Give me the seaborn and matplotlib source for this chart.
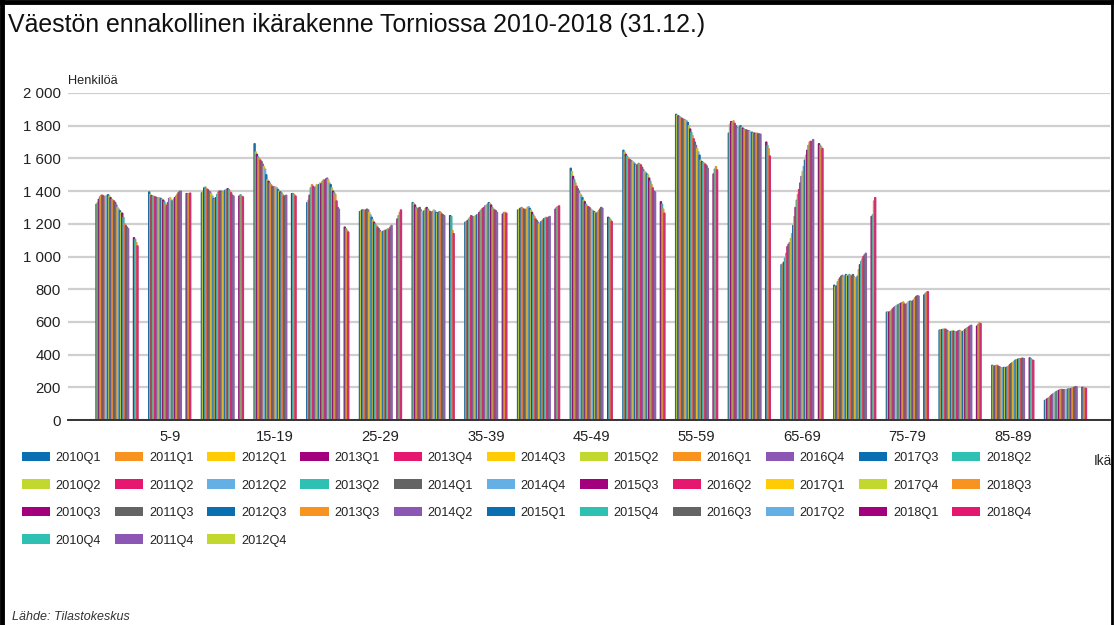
import matplotlib
matplotlib.use("Agg")
import matplotlib.pyplot as plt
import seaborn as sns
import pandas as pd
from matplotlib.patches import Patch
from matplotlib.lines import Line2D
from matplotlib.ticker import FuncFormatter

# ---------------- data ----------------
ages = ["0-4", "5-9", "10-14", "15-19", "20-24", "25-29", "30-34", "35-39", "40-44",
        "45-49", "50-54", "55-59", "60-64", "65-69", "70-74", "75-79", "80-84", "85-89", "90-"]
quarters = [f"{y}Q{q}" for y in range(2010, 2019) for q in range(1, 5)]

N = None  # no value (2017 quarters missing)
v_0_4 = [1320, 1330, 1350, 1365, 1375, 1375, 1370, 1365, 1370, 1375, 1378, 1370, 1360, 1350,
         1345, 1340, 1330, 1315, 1300, 1290, 1280, 1270, 1265, 1240, 1200, 1190, 1180, 1170,
         N, N, N, N, 1115, 1105, 1085, 1065]
v_5_9 = [1395, 1380, 1372, 1370, 1368, 1365, 1362, 1360, 1360, 1358, 1355, 1350, 1345, 1335,
         1320, 1310, 1330, 1355, 1360, 1345, 1340, 1350, 1360, 1370, 1380, 1390, 1398, 1400,
         N, N, N, N, 1385, 1382, 1385, 1388]
v_10_14 = [1390, 1400, 1420, 1425, 1415, 1410, 1400, 1395, 1385, 1370, 1355, 1350, 1360, 1380,
           1395, 1400, 1400, 1398, 1395, 1400, 1405, 1410, 1415, 1410, 1400, 1390, 1375, 1370,
           N, N, N, N, 1370, 1378, 1370, 1365]
v_15_19 = [1690, 1640, 1625, 1610, 1600, 1590, 1580, 1565, 1550, 1535, 1500, 1470, 1460, 1450,
           1440, 1430, 1425, 1425, 1425, 1420, 1410, 1400, 1395, 1390, 1380, 1370, 1370, 1375,
           N, N, N, N, 1385, 1385, 1378, 1370]
v_20_24 = [1330, 1345, 1375, 1420, 1440, 1430, 1420, 1425, 1440, 1435, 1440, 1450, 1445, 1460,
           1470, 1465, 1475, 1480, 1470, 1450, 1440, 1420, 1400, 1390, 1380, 1340, 1300, 1290,
           N, N, N, N, 1180, 1170, 1160, 1150]
v_25_29 = [1275, 1280, 1285, 1285, 1280, 1285, 1290, 1285, 1270, 1255, 1240, 1225, 1210, 1200,
           1190, 1180, 1170, 1160, 1150, 1150, 1155, 1160, 1160, 1165, 1170, 1165, 1180, 1190,
           N, N, N, N, 1230, 1250, 1270, 1285]
v_30_34 = [1330, 1325, 1315, 1300, 1290, 1295, 1300, 1285, 1275, 1270, 1280, 1295, 1300, 1290,
           1280, 1275, 1270, 1275, 1285, 1280, 1270, 1265, 1270, 1275, 1270, 1260, 1255, 1250,
           N, N, N, N, 1250, 1245, 1160, 1140]
v_35_39 = [1210, 1215, 1220, 1230, 1240, 1250, 1245, 1240, 1245, 1250, 1255, 1260, 1270, 1280,
           1290, 1295, 1300, 1310, 1315, 1320, 1330, 1325, 1315, 1300, 1290, 1285, 1280, 1270,
           N, N, N, N, 1260, 1270, 1270, 1265]
v_40_44 = [1285, 1290, 1295, 1300, 1295, 1290, 1285, 1290, 1300, 1305, 1295, 1285, 1270, 1255,
           1245, 1230, 1220, 1210, 1200, 1205, 1215, 1220, 1230, 1235, 1240, 1235, 1240, 1245,
           N, N, N, N, 1290, 1300, 1305, 1310]
v_45_49 = [1540, 1520, 1490, 1470, 1450, 1430, 1415, 1400, 1385, 1375, 1360, 1345, 1335, 1320,
           1310, 1305, 1300, 1290, 1285, 1280, 1275, 1270, 1265, 1270, 1280, 1290, 1300, 1295,
           N, N, N, N, 1240, 1235, 1225, 1215]
v_50_54 = [1650, 1640, 1625, 1615, 1605, 1595, 1590, 1585, 1580, 1575, 1565, 1560, 1560, 1570,
           1565, 1560, 1545, 1530, 1520, 1515, 1505, 1500, 1480, 1460, 1440, 1420, 1400, 1395,
           N, N, N, N, 1335, 1320, 1290, 1265]
v_55_59 = [1870, 1865, 1860, 1855, 1850, 1845, 1840, 1838, 1835, 1830, 1820, 1800, 1780, 1760,
           1740, 1720, 1700, 1680, 1660, 1640, 1620, 1590, 1580, 1575, 1570, 1565, 1555, 1540,
           N, N, N, N, 1505, 1535, 1550, 1530]
v_60_64 = [1755, 1810, 1825, 1820, 1830, 1815, 1800, 1790, 1785, 1795, 1800, 1790, 1785, 1780,
           1775, 1775, 1770, 1770, 1765, 1760, 1760, 1755, 1755, 1750, 1755, 1750, 1750, 1748,
           N, N, N, N, 1700, 1680, 1660, 1615]
v_65_69 = [950, 955, 965, 990, 1020, 1060, 1075, 1085, 1110, 1140, 1190, 1245, 1300, 1345,
           1380, 1410, 1450, 1490, 1520, 1550, 1590, 1620, 1650, 1680, 1700, 1705, 1695, 1715,
           N, N, N, N, 1690, 1680, 1670, 1660]
v_70_74 = [825, 815, 820, 845, 860, 870, 880, 885, 875, 880, 890, 885, 880, 890,
           885, 880, 890, 875, 870, 865, 880, 920, 950, 970, 985, 1000, 1010, 1020,
           N, N, N, N, 1245, 1255, 1340, 1360]
v_75_79 = [660, 662, 660, 665, 672, 680, 688, 693, 700, 703, 706, 712, 714, 718,
           722, 710, 704, 710, 720, 725, 727, 724, 728, 735, 748, 755, 760, 758,
           N, N, N, N, 765, 775, 782, 785]
v_80_84 = [550, 552, 553, 555, 556, 556, 550, 545, 540, 540, 542, 545, 543, 540,
           538, 540, 545, 548, 545, 540, 542, 548, 555, 560, 565, 570, 575, 580,
           N, N, N, N, 575, 585, 595, 590]
v_85_89 = [335, 332, 330, 333, 336, 330, 325, 322, 320, 320, 322, 320, 322, 325,
           330, 338, 345, 350, 355, 362, 367, 370, 372, 375, 376, 377, 378, 376,
           N, N, N, N, 380, 375, 368, 365]
v_90 = [120, 125, 130, 135, 140, 148, 155, 160, 165, 170, 175, 178, 182, 186,
        188, 186, 185, 186, 186, 188, 190, 190, 192, 195, 198, 200, 204, 203,
        N, N, N, N, 200, 198, 195, 194]

series = [v_0_4, v_5_9, v_10_14, v_15_19, v_20_24, v_25_29, v_30_34, v_35_39, v_40_44,
          v_45_49, v_50_54, v_55_59, v_60_64, v_65_69, v_70_74, v_75_79, v_80_84, v_85_89, v_90]

rows = []
for age, vals in zip(ages, series):
    for q, v in zip(quarters, vals):
        if v is not None:
            rows.append({"Ikä": age, "Vuosineljännes": q, "Henkilöä": v})
df = pd.DataFrame(rows)

# ---------------- style ----------------
base_colors = ["#0a6fb2", "#c2d82e", "#a2007c", "#2fc0b4", "#f7931e",
               "#e6176f", "#646464", "#8b56b4", "#ffcb05", "#64b0e4"]
palette = {q: base_colors[i % len(base_colors)] for i, q in enumerate(quarters)}

sns.set_style("white")
plt.rcParams["font.family"] = ["Liberation Sans", "DejaVu Sans"]
text_color = "#222222"

W, H = 1114, 625
fig = plt.figure(figsize=(W / 100, H / 100), dpi=100, facecolor="white")
ax = fig.add_axes([68 / W, 1 - 420 / H, (1110 - 68) / W, (420 - 93) / H])

sns.barplot(data=df, x="Ikä", y="Henkilöä", hue="Vuosineljännes", order=ages,
            hue_order=quarters, palette=palette, width=0.8, linewidth=0,
            errorbar=None, legend=False, ax=ax, zorder=3)
# thin same-coloured outline so the narrow bars join without white seams
for p in ax.patches:
    p.set_snap(False)
    p.set_edgecolor(p.get_facecolor())
    p.set_linewidth(0.9)

ax.set_xlim(-0.93, 18.845)
ax.set_ylim(0, 2000)
ax.set_yticks(range(0, 2001, 200))
ax.yaxis.set_major_formatter(FuncFormatter(lambda v, p: f"{int(v):,}".replace(",", " ")))
ax.set_xticks(range(len(ages)))
ax.set_xticklabels([a if i % 2 == 1 else "" for i, a in enumerate(ages)])
ax.grid(axis="y", color="#cfcfcf", linewidth=1.6, zorder=0)
ax.grid(axis="x", visible=False)
ax.set_axisbelow(True)
for s in ["top", "right", "left"]:
    ax.spines[s].set_visible(False)
ax.spines["bottom"].set_color("#333333")
ax.spines["bottom"].set_linewidth(1.4)
ax.spines["bottom"].set_zorder(4)
ax.tick_params(axis="y", length=0, pad=5, labelsize=10.8, labelcolor=text_color)
ax.tick_params(axis="x", length=0, pad=7.5, labelsize=10.6, labelcolor=text_color)
ax.set_xlabel("")
ax.set_ylabel("")

ax.text(0, 1.018, "Henkilöä", transform=ax.transAxes, ha="left", va="bottom",
        fontsize=9.2, color=text_color)
fig.text(1094 / W, 1 - 461 / H, "Ikä", ha="left", va="center", fontsize=9.8, color=text_color)

fig.text(8 / W, 1 - 25 / H, "Väestön ennakollinen ikärakenne Torniossa 2010-2018 (31.12.)",
         ha="left", va="center", fontsize=17.9, color="#111111")
fig.text(12 / W, 1 - 617 / H, "Lähde: Tilastokeskus", ha="left", va="center",
         fontsize=9, style="italic", color="#333333")

handles = [Patch(facecolor=palette[q], edgecolor="none", label=q) for q in quarters]
fig.legend(handles=handles, loc="upper left", bbox_to_anchor=(22 / W, 1 - 452 / H),
           ncol=11, frameon=False, fontsize=9.2, handlelength=2.2, handleheight=0.75,
           handletextpad=0.45, columnspacing=1.08, labelspacing=1.2, labelcolor=text_color,
           borderaxespad=0, borderpad=0)

# outer frame
fig.add_artist(Line2D([0.002, 0.002], [0, 1], transform=fig.transFigure, color="black", lw=3.5))
fig.add_artist(Line2D([0, 1], [0.997, 0.997], transform=fig.transFigure, color="black", lw=3.5))
fig.add_artist(Line2D([0.9985, 0.9985], [0, 1], transform=fig.transFigure, color="black", lw=2))

fig.savefig("out.png", dpi=100, facecolor="white")
